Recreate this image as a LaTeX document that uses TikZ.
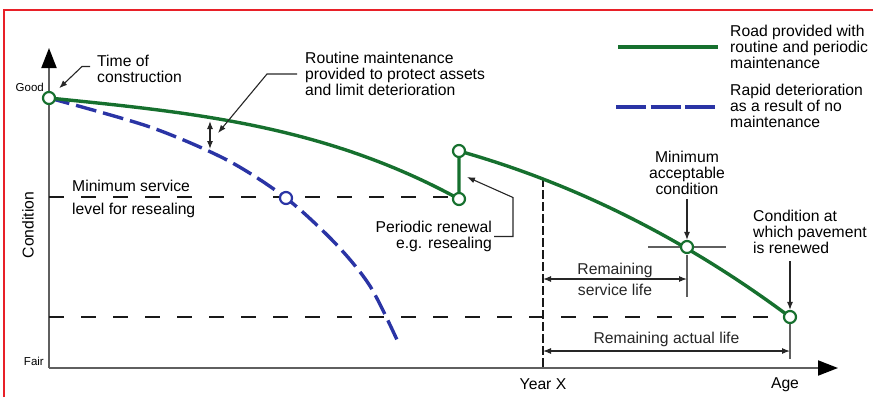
\documentclass[tikz,border=0pt]{standalone}
\usepackage{fontspec}
\setmainfont{Liberation Sans}
\usetikzlibrary{arrows,arrows.meta,positioning,calc}

\definecolor{roadgreen}{RGB}{22,112,46}
\definecolor{decayblue}{RGB}{42,52,165}
\definecolor{framered}{RGB}{232,32,40}
\definecolor{axisgray}{RGB}{95,95,95}

\begin{document}
\begin{tikzpicture}[x=1pt, y=-1pt,
    txt/.style={inner sep=0pt, font=\fontsize{15.7}{16}\selectfont},
    small/.style={inner sep=0pt, font=\fontsize{11.5}{12}\selectfont},
    leader/.style={-{Latex[length=8pt,width=6pt]}, line width=1.1pt, black!85},
    dim/.style={{Latex[length=8pt,width=6pt]}-{Latex[length=8pt,width=6pt]}, line width=1.1pt, black!85},
    tick/.style={line width=1.4pt, axisgray},
    axis/.style={line width=2pt, axisgray, -{Triangle[length=20pt,width=15pt,color=black]}},
    level/.style={line width=2.8pt, black!90, dash pattern=on 15pt off 17pt},
    road/.style={line width=3.4pt, roadgreen},
    decay/.style={line width=3.4pt, decayblue, dash pattern=on 21pt off 7pt},
    ring/.style={circle, draw=roadgreen, line width=2.2pt, fill=white, minimum size=12pt, inner sep=0pt},
    bluering/.style={ring, draw=decayblue}]

\useasboundingbox (0,0) rectangle (873,397);
\draw[framered, line width=2.5pt] (4,397) -- (4,10) -- (873,10);

% points on the curves
\coordinate (O) at (49,368);
\coordinate (ytop) at (49,48);
\coordinate (xend) at (838,368);
\coordinate (g0) at (49,98);
\coordinate (r1) at (459,199);
\coordinate (r2) at (459,151);
\coordinate (yx) at (543,178);
\coordinate (ma) at (687,247);
\coordinate (e) at (790,317);
\coordinate (b1) at (286,198);

% axes
\draw[axis] (O) -- (ytop);
\draw[axis] (O) -- (xend);
\node[small, anchor=east] (good) at (44,87) {Good};
\node[small, anchor=east] (fair) at (44,361) {Fair};
\node[txt, rotate=90] (cond) at (28,225) {Condition};
\node[txt] (yearx) at (543,384) {Year X};
\node[txt] (age) at (785,385) {Age};

% levels
\coordinate (ms1) at (49,197);
\coordinate (ms2) at (455,197);
\draw[level] (ms1) -- (ms2);
\draw[level] (O |- e) -- (e);
\draw[line width=2.2pt, black!90, dash pattern=on 9pt off 3pt] (yx) -- (yx |- O);

% ticks
\draw[tick] (ma) ++(-39,0) -- ++(78,0);
\draw[tick] (ma) ++(0,8) -- ++(0,42);
\draw[tick] (e) ++(0,6) -- ++(0,36);

% curves
\draw[decay] plot[smooth] coordinates {(49,98) (150,127) (227,160) (286,198) (335,243) (370,286) (398,342)};
\draw[road] (g0) .. controls (186,112) and (322,124) .. (r1) -- (r2)
    .. controls (569,182) and (680,235) .. (e);

\node[ring] (G0) at (g0) {};
\node[ring] (R1) at (r1) {};
\node[ring] (R2) at (r2) {};
\node[ring] (MA) at (ma) {};
\node[ring] (E) at (e) {};
\node[bluering] (B1) at (b1) {};

% labels
\node[txt, anchor=west, align=left] (TC) at (97,68.5) {Time of\\construction};
\draw[leader, shorten >=7pt] ([shift={(-7,-2)}]TC.west) -- ++(-8,0) -- (G0);

\coordinate (gapT) at (210,121);
\coordinate (gapB) at (210,149);
\coordinate (rmtip) at (218,133);
\draw[dim] (gapT) -- (gapB);
\node[txt, anchor=west, align=left] (RM) at (305,74) {Routine maintenance\\provided to protect assets\\and limit deterioration};
\draw[leader] ([xshift=-8pt]RM.west) -- ++(-30,0) -- (rmtip);

\node[txt, anchor=west, align=left] (MS) at (72,198.5) {Minimum service\\[7pt]level for resealing};

\coordinate (prtip) at (467,177);
\node[txt, anchor=east, align=right] (PR) at (492,236.5) {Periodic renewal\\e.g. resealing};
\draw[leader] ([xshift=2pt]PR.east) -- ++(19,0) -- ++(0,-39) -- (prtip);

\node[txt, align=center] (MAC) at (687,172.5) {Minimum\\acceptable\\condition};
\draw[leader, shorten <=5pt] (MAC) -- (MA);

\node[txt, anchor=west, align=left] (CR) at (753,231.5) {Condition at\\which pavement\\is renewed};
\draw[leader, shorten <=8pt] (CR.south -| E) -- (E);

\coordinate (rsA) at (543,279);
\coordinate (rsB) at (687,279);
\draw[dim] (rsA) -- node[txt, align=center] {Remaining\\[5pt]service life} (rsB);

\coordinate (raA) at (543,351);
\coordinate (raB) at (790,351);
\draw[dim] (raA) -- node[txt, above=4pt] {Remaining actual life} (raB);

% legend
\coordinate (lg1a) at (618,47);
\coordinate (lg1b) at (718,47);
\draw[road] (lg1a) -- (lg1b);
\node[txt, anchor=west, align=left] (lg1) at (730,46.5) {Road provided with\\routine and periodic\\maintenance};
\coordinate (lg2a) at (616,107);
\coordinate (lg2b) at (717,107);
\draw[line width=3.4pt, decayblue, dash pattern=on 30pt off 4.5pt] (lg2a) -- (lg2b);
\node[txt, anchor=west, align=left] (lg2) at (730,106) {Rapid deterioration\\as a result of no\\maintenance};
\end{tikzpicture}
\end{document}
